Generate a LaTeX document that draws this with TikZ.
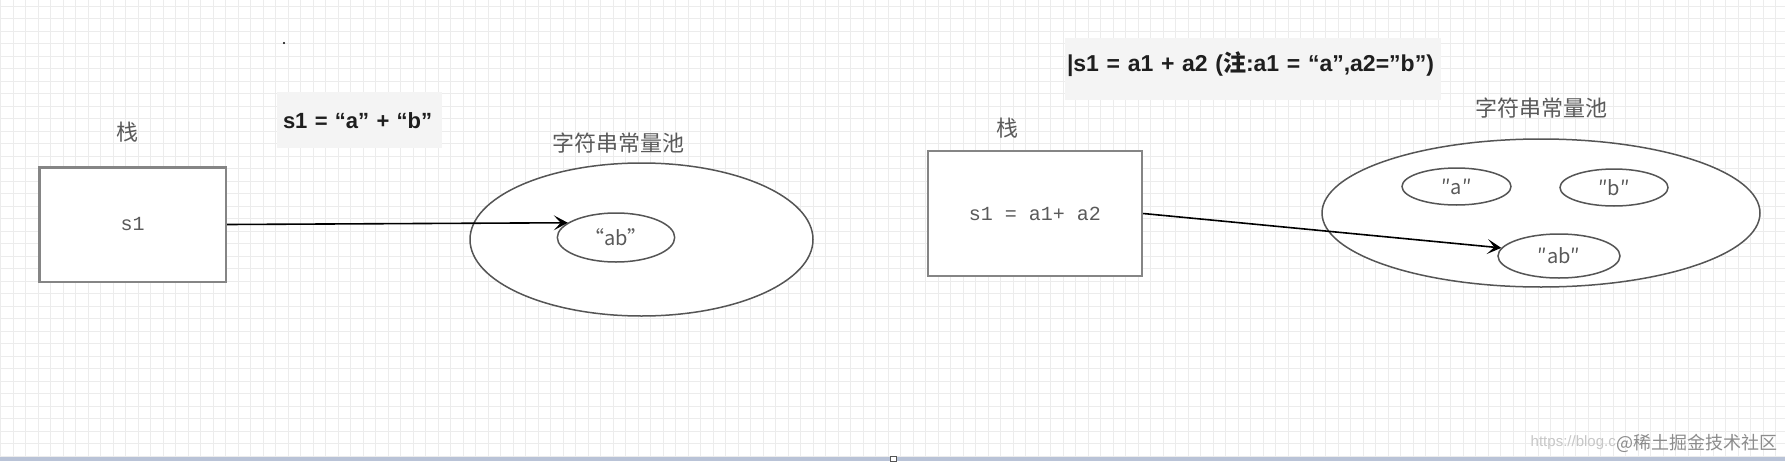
\documentclass[tikz,border=0pt]{standalone}
\usepackage{fontspec}
\setmainfont{Liberation Sans}
\newfontfamily\cjk{Noto Sans CJK SC}
\newfontfamily\codefont{Liberation Mono}
\usepackage{xcolor}
\usetikzlibrary{arrows.meta, positioning, shapes.geometric}

\definecolor{gridgray}{HTML}{ECECEC}
\definecolor{boxgray}{HTML}{858585}
\definecolor{linegray}{HTML}{555555}
\definecolor{labelgray}{HTML}{5A5A5A}
\definecolor{notegray}{HTML}{F4F4F4}
\definecolor{notetext}{HTML}{1E1E1E}
\definecolor{barblue}{HTML}{B9C3D7}
\definecolor{wmgray}{HTML}{8C8C8C}

\begin{document}
\begin{tikzpicture}[
    x=0.5pt, y=-0.5pt,
    stackbox/.style={rectangle, draw=boxgray, line width=1.2pt, fill=white, font=\codefont\fontsize{10}{12}\selectfont, text=labelgray},
    pool/.style={ellipse, draw=linegray, line width=0.75pt, fill=white, inner sep=0pt},
    strnode/.style={pool, font=\cjk\fontsize{10}{12}\selectfont, text=labelgray},
    caption/.style={font=\cjk\fontsize{11}{13}\selectfont, text=labelgray, inner sep=0pt},
    notebox/.style={rectangle, fill=notegray, font=\bfseries\fontsize{11}{13}\selectfont, text=notetext, inner xsep=3pt, inner ysep=0pt, align=left},
    connector/.style={-{Stealth[length=7pt, width=7.5pt, inset=3.5pt]}, line width=0.8pt},
]
    % Canvas and grid
    \useasboundingbox (0,0) rectangle (1785,461);
    \fill[white] (0,0) rectangle (1785,461);
    \foreach \gx in {0.8,13.3,...,1785} \draw[gridgray, line width=0.5pt] (\gx,0) -- (\gx,457);
    \foreach \gy in {6,18.5,...,457} \draw[gridgray, line width=0.5pt] (0,\gy) -- (1785,\gy);
    \fill[barblue] (0,457) rectangle (1785,461);
    \draw[linegray, fill=white, line width=0.4pt] (890,456) rectangle (896,461);
    \fill (284,43) circle (0.6pt);

    % Left: literal concatenation
    \node[notebox, minimum width=82.5pt, minimum height=28pt, text width=76.5pt, text height=8pt, text depth=0pt] (note1) at (359.5,120) {s1 = “a” + “b”};
    \node[stackbox, minimum width=93.3pt, minimum height=57.2pt] (stack1) at (132.7,224.5) {s1};
    \node[caption, above=11.5pt of stack1, xshift=-2.8pt] (stacklabel1) {栈};
    \node[pool, minimum width=171.5pt, minimum height=76.5pt] (pool1) at (641.5,239.5) {};
    \node[caption, above=4.5pt of pool1, xshift=-11.7pt] (poollabel1) {字符串常量池};
    \node[strnode, minimum width=58.7pt, minimum height=24.5pt] (ab1) at (616,237.5) {“ab”};

    % Right: variable concatenation
    \node[notebox, font=\bfseries\fontsize{11.5}{13}\selectfont, inner xsep=1pt, minimum width=188pt, minimum height=31pt, text width=186pt, text height=8pt, text depth=6pt] (note2) at (1253,69) {|s1 = a1 + a2 ({\cjk 注}:a1 = “a”,a2=”b”)};
    \node[stackbox, minimum width=107pt, minimum height=62.5pt] (stack2) at (1035,213.5) {s1 = a1+ a2};
    \node[caption, above=5.8pt of stack2, xshift=-14pt] (stacklabel2) {栈};
    \node[pool, minimum width=219pt, minimum height=74pt] (pool2) at (1541,213) {};
    \node[caption, above=10pt of pool2] (poollabel2) {字符串常量池};
    \node[strnode, minimum width=54.5pt, minimum height=18.5pt] (a2) at (1456.5,186.5) {″a″};
    \node[strnode, minimum width=54pt, minimum height=18.5pt] (b2) at (1614,187.5) {″b″};
    \node[strnode, minimum width=61pt, minimum height=22pt] (ab2) at (1559,256) {″ab″};

    % References
    \draw[connector] (stack1.east) -- (ab1.163);
    \draw[connector] (stack2.east) -- (ab2.172);

    % Watermark
    \node[anchor=east, font=\cjk\fontsize{9}{11}\selectfont, text=wmgray, inner sep=0pt] (wm) at (1778,443) {@稀土掘金技术社区};
    \node[anchor=east, font=\fontsize{7.5}{9}\selectfont, text=black!22, inner sep=0pt] (wmurl) at (wm.west) {https://blog.c};
\end{tikzpicture}
\end{document}
